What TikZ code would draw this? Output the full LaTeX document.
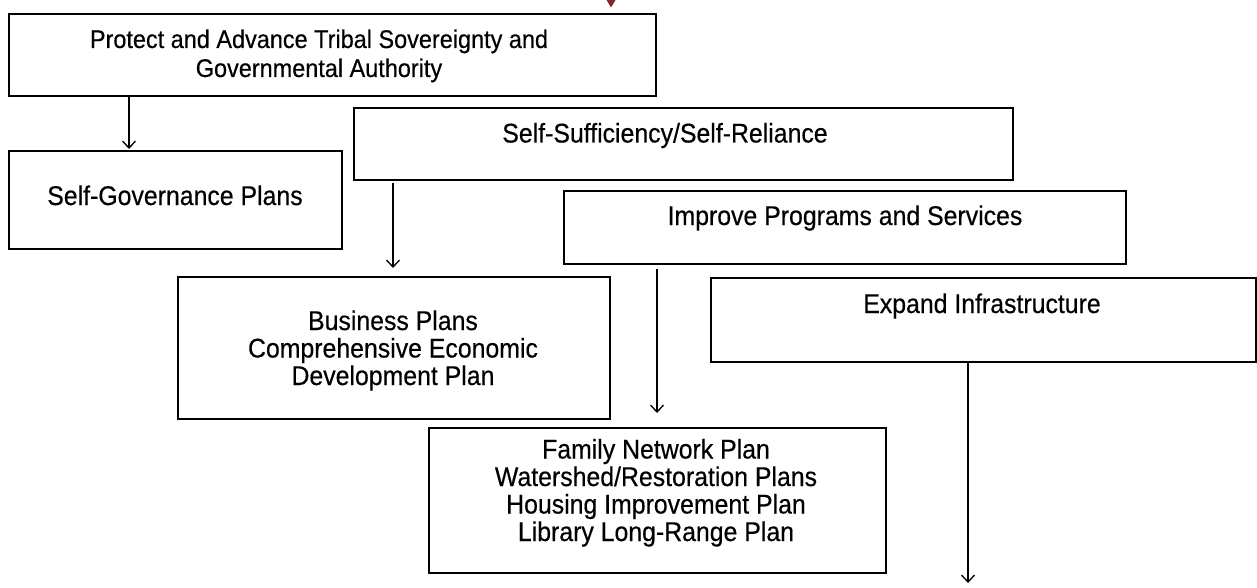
\documentclass[tikz,border=0pt]{standalone}
\usepackage{fontspec}
\setmainfont[FakeStretch=0.92,FakeBold=0.4]{Liberation Sans}
\usetikzlibrary{arrows.meta}
\definecolor{tipred}{HTML}{7B2D2D}
\tikzset{
  box/.style={draw=black, line width=2pt, inner sep=0pt, anchor=north west},
  lbl/.style={inner sep=0pt, anchor=base, align=center, font=\fontsize{27}{29.5}\selectfont},
  arr/.style={draw=black, line width=1.3pt, -{Straight Barb[length=7pt,width=13pt,line width=1.3pt]}},
}
\begin{document}
\begin{tikzpicture}[x=1pt,y=-1pt]
\useasboundingbox (0,0) rectangle (1257,588);
% boxes
\node[box, minimum width=647pt, minimum height=82pt] (A) at (8,13) {};
\node[box, minimum width=333pt, minimum height=98pt] (B) at (8,150) {};
\node[box, minimum width=659pt, minimum height=72pt] (C) at (353,107) {};
\node[box, minimum width=432pt, minimum height=142pt] (D) at (177,276) {};
\node[box, minimum width=562pt, minimum height=73pt] (E) at (563,190) {};
\node[box, minimum width=457pt, minimum height=145pt] (F) at (428,427) {};
\node[box, minimum width=545pt, minimum height=84pt] (G) at (710,277) {};
% texts (base anchor = baseline of last line)
\node[lbl, font=\fontsize{25.5}{29}\selectfont] (tA) at (319,77) {Protect and Advance Tribal Sovereignty and\\Governmental Authority};
\node[lbl] (tB) at (175,205) {Self-Governance Plans};
\node[lbl] (tC) at (665,142.5) {Self-Sufficiency/Self-Reliance};
\node[lbl, font=\fontsize{27}{27.5}\selectfont] (tD) at (393,385) {Business Plans\\Comprehensive Economic\\Development Plan};
\node[lbl, font=\fontsize{27}{27.5}\selectfont] (tF) at (656,541) {Family Network Plan\\Watershed/Restoration Plans\\Housing Improvement Plan\\Library Long-Range Plan};
\node[lbl] (tE) at (845,225) {Improve Programs and Services};
\node[lbl] (tG) at (982,313) {Expand Infrastructure};
% connector x positions
\coordinate (xAB) at (129,0);
\coordinate (xCD) at (393,0);
\coordinate (xEF) at (657,0);
\coordinate (xG) at (968,0);
\coordinate (Gend) at (968,583);
\draw[arr] (A.south -| xAB) -- ([yshift=1pt]B.north -| xAB);
\draw[arr, shorten <=2pt, shorten >=8pt] (C.south -| xCD) -- (D.north -| xCD);
\draw[arr, shorten <=4pt, shorten >=14pt] (E.south -| xEF) -- (F.north -| xEF);
\draw[arr] (G.south -| xG) -- (Gend);
% top arrow tip (cropped)
\fill[tipred] (606.5,0) -- (615.5,0) -- (611,7.5) -- cycle;
\end{tikzpicture}
\end{document}
